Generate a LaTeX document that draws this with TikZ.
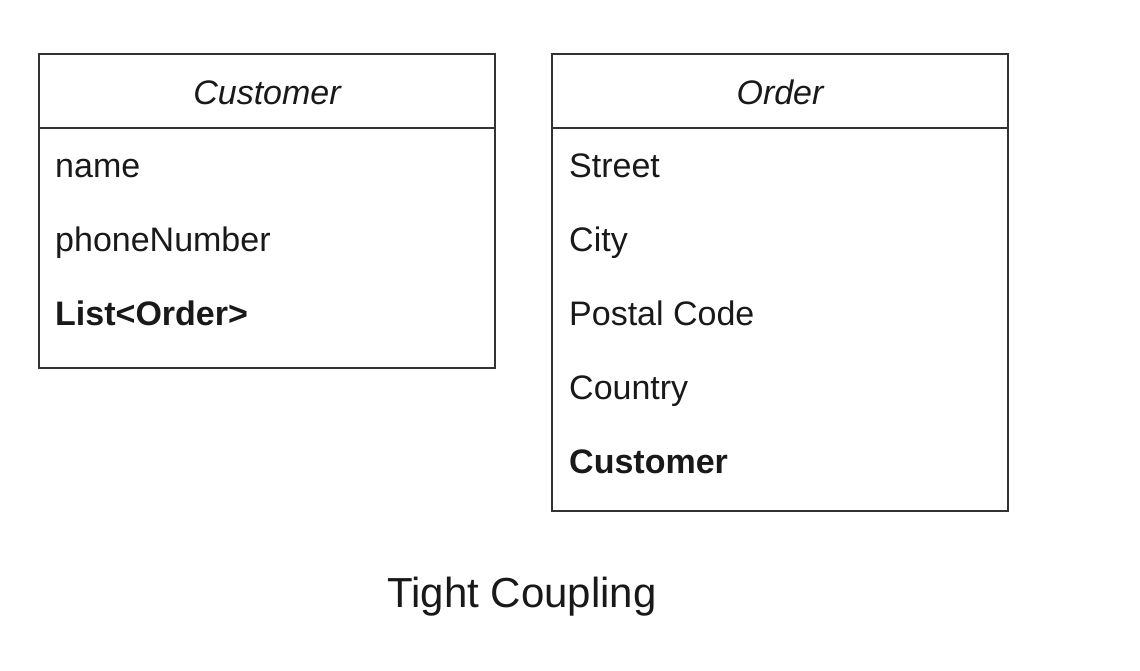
\documentclass[tikz,border=0pt]{standalone}
\usepackage{fontspec}
\setmainfont{Liberation Sans}
\begin{document}
\begin{tikzpicture}[x=1pt,y=-1pt,
  box/.style={draw=black!80,line width=1.6pt},
  attr/.style={anchor=base west,inner sep=0pt,font=\fontsize{34}{38}\selectfont,text=black!90},
  battr/.style={attr,font=\fontsize{34}{38}\selectfont\bfseries},
  head/.style={anchor=base,inner sep=0pt,font=\fontsize{34}{38}\selectfont\itshape,text=black!90}]
\useasboundingbox (0,0) rectangle (1140,670);
\fill[white] (0,0) rectangle (1140,670);
% Customer
\draw[box] (39,54) rectangle (495,368);
\draw[box] (39,128) -- (495,128);
\node[head] (ch) at (267,104) {Customer};
\node[attr] (c1) at (55,177) {name};
\node[attr] (c2) at (55,251) {phoneNumber};
\node[battr] (c3) at (55,325) {List<Order>};
% Order
\draw[box] (552,54) rectangle (1008,511);
\draw[box] (552,128) -- (1008,128);
\node[head] (oh) at (780,104) {Order};
\node[attr] (o1) at (569,177) {Street};
\node[attr] (o2) at (569,251) {City};
\node[attr] (o3) at (569,325) {Postal Code};
\node[attr] (o4) at (569,399) {Country};
\node[battr] (o5) at (569,473) {Customer};
\node[anchor=base,inner sep=0pt,font=\fontsize{42}{46}\selectfont,text=black!90] (t) at (522,607) {Tight Coupling};
\end{tikzpicture}
\end{document}
